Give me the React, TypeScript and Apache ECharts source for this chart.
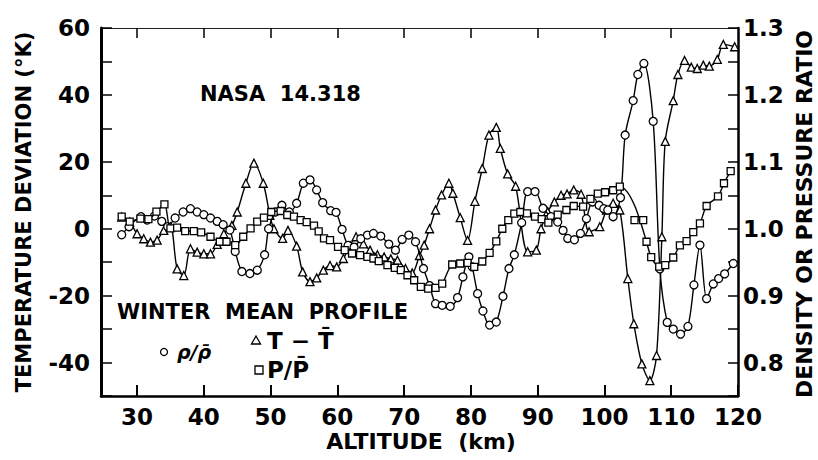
import React, { useEffect, useRef } from "react";
import * as echarts from "echarts";

// Altitude (km) tick positions
const altTicks = [30, 40, 50, 60, 70, 80, 90, 100, 110, 120];

// T - T̄ (°K), left axis
const tAlt = [27.7, 28.9, 30.0, 31.0, 32.0, 33.0, 34.0, 35.0, 36.0, 37.0, 38.0, 39.0, 40.0, 41.0, 42.0, 43.0, 44.2, 45.0, 46.3, 47.5, 48.9, 49.9, 50.5, 51.8, 52.6, 53.9, 54.8, 55.9, 56.9, 57.9, 58.9, 59.9, 60.9, 61.9, 62.8, 63.9, 64.9, 66.0, 67.0, 68.0, 69.0, 70.2, 71.2, 72.3, 73.0, 73.8, 74.7, 75.6, 76.7, 77.3, 78.4, 79.5, 80.6, 81.7, 82.7, 83.8, 84.4, 85.5, 86.7, 88.5, 89.8, 90.5, 91.5, 92.5, 93.5, 94.4, 95.4, 96.5, 97.7, 99.3, 100.3, 101.3, 102.3, 103.5, 104.4, 105.6, 106.8, 107.8, 108.6, 109.1, 110.3, 111.0, 112.0, 113.0, 113.9, 114.8, 115.7, 116.9, 117.8, 119.5];
const tVal = [3.5, 2, -1.5, -3, -4, -3.4, -0.5, 0.5, -12, -14, -6, -7, -7.5, -7.5, -4.7, -1.5, 1, 5, 13.6, 19.6, 13.6, 4, 0, -2.9, -0.5, -5.2, -12.9, -15.8, -14.7, -12.4, -11, -11.4, -8.9, -5.1, -2.4, -4.5, -6.4, -7.8, -8.4, -9, -9.4, -11.9, -13.2, -8, -4.9, 0, 5.6, 10.1, 13.6, 10.6, 3.3, -3.5, 8.2, 18, 28, 30.3, 24, 16.4, 12.7, -6.9, -6.4, 0, 5.1, 8, 10, 10.4, 11.6, 10.3, -0.9, 0.6, 5.6, 7.6, 5.6, -14.9, -28.4, -40.4, -45.4, -37.9, -2.4, 26.1, 38.3, 46.1, 50.3, 48.3, 47.9, 48.9, 48.6, 50.6, 55.1, 54.4];

// ρ/ρ̄ (ratio), right axis
const rhoAlt = [27.7, 28.8, 30.6, 31.5, 32.6, 33.7, 34.6, 35.7, 36.9, 38.0, 39.0, 40.0, 41.0, 42.0, 42.9, 43.9, 44.7, 45.7, 46.9, 48.0, 49.1, 49.7, 50.7, 51.7, 52.8, 53.9, 54.9, 55.9, 56.9, 57.8, 59.0, 59.8, 60.7, 61.6, 62.5, 63.5, 64.5, 65.4, 66.5, 67.7, 68.7, 69.7, 70.7, 71.7, 72.9, 73.8, 74.7, 75.7, 76.9, 78.0, 78.8, 79.7, 80.2, 81.0, 81.8, 82.8, 83.8, 84.8, 85.7, 86.5, 87.6, 88.5, 89.6, 90.8, 92.0, 93.0, 93.8, 94.5, 95.5, 96.4, 97.3, 98.2, 99.2, 99.9, 100.5, 101.3, 102.4, 103.1, 104.3, 105.0, 105.9, 107.3, 108.3, 109.4, 110.3, 111.4, 112.5, 113.4, 114.3, 115.3, 116.3, 117.1, 118.0, 119.3];
const rhoVal = [0.991, 1.003, 1.018, 1.013, 1.019, 1.011, 1.003, 1.016, 1.025, 1.03, 1.025, 1.021, 1.016, 1.011, 1.006, 0.998, 0.966, 0.936, 0.933, 0.938, 0.961, 1.0, 1.025, 1.035, 1.025, 1.038, 1.068, 1.073, 1.058, 1.039, 1.027, 1.0245, 0.999, 0.975, 0.9725, 0.985, 0.9905, 0.993, 0.989, 0.977, 0.968, 0.984, 0.9905, 0.9805, 0.9405, 0.915, 0.888, 0.8855, 0.884, 0.897, 0.928, 0.958, 0.943, 0.903, 0.877, 0.856, 0.8605, 0.899, 0.9405, 0.961, 1.009, 1.0555, 1.0555, 1.0305, 1.018, 1.01, 0.9975, 0.9855, 0.9835, 0.993, 1.015, 1.04, 1.035, 1.03, 1.028, 1.018, 1.0465, 1.14, 1.1915, 1.2305, 1.247, 1.1605, 0.94, 0.86, 0.85, 0.8425, 0.854, 0.916, 0.9755, 0.8955, 0.9175, 0.9255, 0.9325, 0.948];

// P/P̄ (ratio), right axis: marked part A, unmarked curve, marked part B
const pAltA = [27.7, 28.9, 30.5, 31.7, 32.9, 34.1, 35.0, 36.0, 37.2, 38.5, 39.6, 41.0, 42.4, 43.4, 44.7, 45.9, 47.0, 48.0, 49.0, 50.1, 51.5, 52.5, 53.5, 54.5, 55.4, 56.5, 57.2, 58.0, 58.9, 60.1, 61.1, 62.2, 63.4, 64.5, 65.4, 66.2, 67.5, 68.6, 69.5, 70.5, 71.5, 72.5, 73.6, 74.7, 75.7, 77.2, 78.4, 79.5, 80.5, 81.7, 82.8, 83.8, 84.7, 85.6, 86.5, 87.4, 88.4, 89.6, 90.6, 91.6, 93.0, 94.3, 95.4, 96.8, 97.9, 99.0, 100.1, 101.3, 102.3];
const pValA = [1.018, 1.0105, 1.015, 1.0145, 1.0255, 1.0365, 1.0005, 1.0015, 0.9965, 0.9965, 0.9945, 0.988, 0.9805, 0.9805, 0.9755, 0.988, 1.0005, 1.0105, 1.0165, 1.025, 1.0265, 1.0205, 1.018, 1.013, 1.01, 1.0045, 0.996, 0.9855, 0.983, 0.973, 0.968, 0.963, 0.9605, 0.958, 0.9555, 0.9515, 0.9455, 0.9415, 0.938, 0.9305, 0.923, 0.913, 0.9105, 0.9115, 0.918, 0.9465, 0.948, 0.949, 0.943, 0.951, 0.964, 0.981, 1.0, 1.013, 1.0225, 1.025, 1.023, 1.018, 1.0145, 1.009, 1.021, 1.028, 1.034, 1.033, 1.0445, 1.0525, 1.0545, 1.0575, 1.063];
const pGapAlt = [103.4, 104.5, 105.4];
const pGapVal = [1.055, 1.035, 1.01];
const pAltB = [106.3, 107.0, 108.2, 109.1, 110.3, 111.3, 112.3, 113.3, 114.3, 115.3, 117.0, 117.9, 118.9];
const pValB = [0.9805, 0.9575, 0.9435, 0.9455, 0.957, 0.975, 0.9815, 0.995, 1.008, 1.034, 1.0485, 1.068, 1.086];
const pIsoAlt = [104.5, 105.8];
const pIsoVal = [1.013, 1.013];

const FONT = "DejaVu Sans";

export default function App() {
  const ref = useRef<HTMLDivElement>(null);
  useEffect(() => {
    const chart = echarts.init(ref.current!, null, { renderer: "svg" });
    const pair = (a: number[], v: number[]) => a.map((x, i) => [x, v[i]]);
    const pData = [
      ...pair(pAltA, pValA),
      ...pair(pGapAlt, pGapVal).map((d) => ({ value: d, symbol: "none" })),
      ...pair(pAltB, pValB),
    ];
    const markerStyle = { color: "#fff", borderColor: "#000", borderWidth: 1.3 };
    const lineStyle = { color: "#000", width: 1.4 };
    const labelFont = { fontFamily: FONT, fontWeight: "bold" as const, fontSize: 23, color: "#000" };
    const option: any = {
      animation: false,
      backgroundColor: "#fff",
      grid: { left: 101, right: 80, top: 28, bottom: 64 },
      xAxis: [
        {
          type: "value", min: 24.6, max: 120, position: "bottom",
          axisLine: { onZero: false, lineStyle: { color: "#000", width: 2.5 } },
          axisTick: { inside: true, length: 11, customValues: altTicks, lineStyle: { color: "#000", width: 2 } },
          axisLabel: { customValues: altTicks, margin: 9, ...labelFont },
          splitLine: { show: false },
        },
        {
          type: "value", min: 24.6, max: 120, position: "top",
          axisLine: { onZero: false, lineStyle: { color: "#222", width: 1.2 } },
          axisTick: { inside: true, length: 10, customValues: altTicks.slice(0, 9), lineStyle: { color: "#000", width: 1.5 } },
          axisLabel: { show: false },
          splitLine: { show: false },
        },
      ],
      yAxis: [
        {
          type: "value", min: -50, max: 60, interval: 10, position: "left",
          axisLine: { show: true, onZero: false, lineStyle: { color: "#000", width: 3 } },
          axisTick: { show: true, inside: true, length: 11, lineStyle: { color: "#000", width: 1.5 } },
          axisLabel: {
            margin: 11, ...labelFont,
            formatter: (v: number) => (Math.round(v) % 20 === 0 ? String(Math.round(v)) : ""),
          },
          splitLine: { show: false },
        },
        {
          type: "value", min: 0.75, max: 1.3, interval: 0.05, position: "right",
          axisLine: { show: true, onZero: false, lineStyle: { color: "#000", width: 2.5 } },
          axisTick: { show: true, inside: true, length: 10, lineStyle: { color: "#000", width: 1.5 } },
          axisLabel: {
            margin: 5, ...labelFont,
            formatter: (v: number) => {
              const t = Math.round(v * 100);
              return t % 10 === 0 ? (t / 100).toFixed(1) : "";
            },
          },
          splitLine: { show: false },
        },
      ],
      series: [
        {
          name: "T - T̄", type: "line", xAxisIndex: 0, yAxisIndex: 0, smooth: 0.3,
          data: pair(tAlt, tVal), symbol: "triangle", symbolSize: 8,
          itemStyle: markerStyle, lineStyle, z: 3,
        },
        {
          name: "ρ/ρ̄", type: "line", xAxisIndex: 0, yAxisIndex: 1, smooth: 0.3,
          data: pair(rhoAlt, rhoVal), symbol: "circle", symbolSize: 8,
          itemStyle: markerStyle, lineStyle, z: 4,
        },
        {
          name: "P/P̄", type: "line", xAxisIndex: 0, yAxisIndex: 1, smooth: 0.3,
          data: pData, symbol: "rect", symbolSize: 7,
          itemStyle: markerStyle, lineStyle, z: 5,
        },
        {
          name: "P/P̄ b", type: "line", xAxisIndex: 0, yAxisIndex: 1,
          data: pair(pIsoAlt, pIsoVal), symbol: "rect", symbolSize: 7,
          itemStyle: markerStyle, lineStyle, z: 5,
        },
      ],
      graphic: [
        {
          type: "text", x: 24, y: 212, rotation: Math.PI / 2,
          style: { text: "TEMPERATURE DEVIATION (°K)", fontFamily: FONT, fontWeight: "bold", fontSize: 21, fill: "#000", align: "center", verticalAlign: "middle" },
        },
        {
          type: "text", x: 804, y: 214, rotation: Math.PI / 2,
          style: { text: "DENSITY OR PRESSURE RATIO", fontFamily: FONT, fontWeight: "bold", fontSize: 22, fill: "#000", align: "center", verticalAlign: "middle" },
        },
        {
          type: "text", x: 421, y: 441,
          style: { text: "ALTITUDE  (km)", fontFamily: FONT, fontWeight: "bold", fontSize: 22, fill: "#000", align: "center", verticalAlign: "middle" },
        },
        {
          type: "text", x: 200, y: 94,
          style: { text: "NASA  14.318", fontFamily: FONT, fontWeight: "bold", fontSize: 21, fill: "#000", align: "left", verticalAlign: "middle" },
        },
        {
          type: "text", x: 117, y: 312,
          style: { text: "WINTER  MEAN  PROFILE", fontFamily: FONT, fontWeight: "bold", fontSize: 21, fill: "#000", align: "left", verticalAlign: "middle" },
        },
        { type: "circle", shape: { cx: 164, cy: 352, r: 3.5 }, style: { fill: "#fff", stroke: "#000", lineWidth: 1.3 } },
        {
          type: "text", x: 177, y: 352,
          style: { text: "ρ/ρ̄", fontFamily: FONT, fontWeight: "bold", fontStyle: "italic", fontSize: 19, fill: "#000", align: "left", verticalAlign: "middle" },
        },
        { type: "polygon", shape: { points: [[256, 336], [260.5, 344], [251.5, 344]] }, style: { fill: "#fff", stroke: "#000", lineWidth: 1.3 } },
        {
          type: "text", x: 267, y: 341,
          style: { text: "T − T̄", fontFamily: FONT, fontWeight: "bold", fontSize: 23, fill: "#000", align: "left", verticalAlign: "middle" },
        },
        { type: "rect", shape: { x: 255, y: 366, width: 8, height: 8 }, style: { fill: "#fff", stroke: "#000", lineWidth: 1.3 } },
        {
          type: "text", x: 267, y: 370,
          style: { text: "P/P̄", fontFamily: FONT, fontWeight: "bold", fontSize: 23, fill: "#000", align: "left", verticalAlign: "middle" },
        },
      ],
    };
    chart.setOption(option);
    return () => chart.dispose();
  }, []);
  return <div ref={ref} style={{ position: "fixed", left: 0, top: 0, width: 818, height: 460, background: "#fff" }} />;
}
